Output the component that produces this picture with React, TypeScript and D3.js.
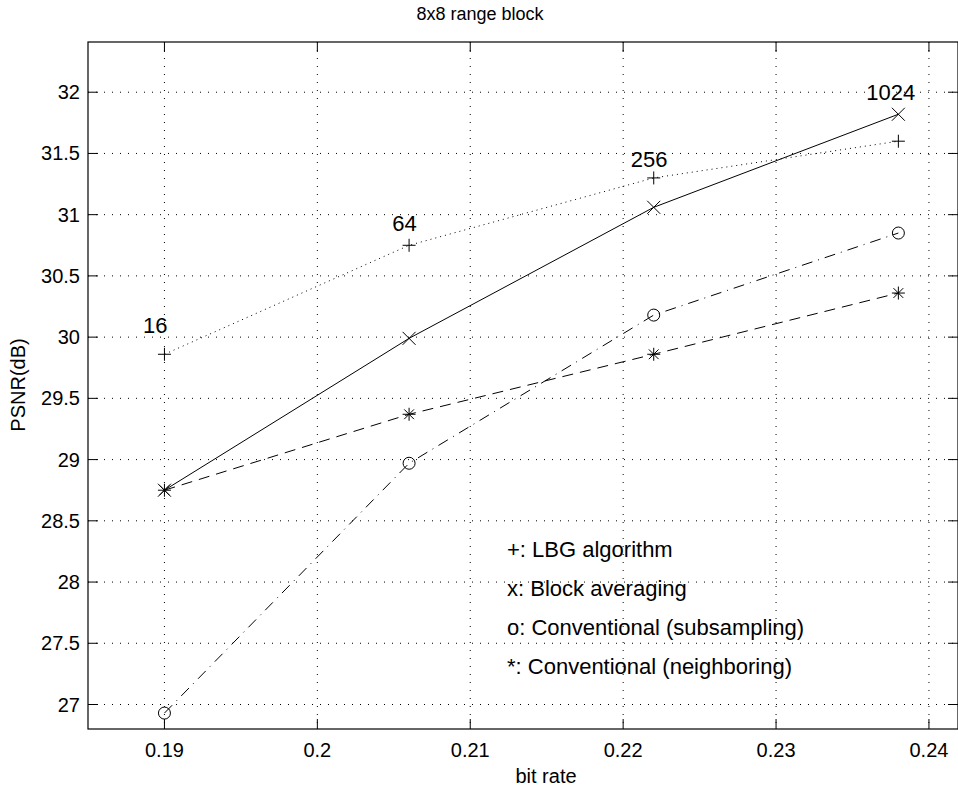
import React from "react";
import * as d3 from "d3";

const bitRates = [0.19, 0.206, 0.222, 0.238];
const lbg = [29.86, 30.75, 31.3, 31.6];
const blockAvg = [28.75, 29.99, 31.06, 31.82];
const subsampling = [26.93, 28.97, 30.18, 30.85];
const neighboring = [28.75, 29.37, 29.86, 30.36];

const codebookLabels = ["16", "64", "256", "1024"];
const codebookLabelX = [0.1894, 0.2057, 0.2217, 0.2375];
const codebookLabelY = [30.03, 30.87, 31.39, 31.94];

const xTicks = [0.19, 0.2, 0.21, 0.22, 0.23, 0.24];
const yTicks = [27, 27.5, 28, 28.5, 29, 29.5, 30, 30.5, 31, 31.5, 32];

const legendItems = [
  "+: LBG algorithm",
  "x: Block averaging",
  "o: Conventional (subsampling)",
  "*: Conventional (neighboring)",
];

const W = 958;
const H = 792;
const left = 88;
const right = 958;
const top = 42;
const bottom = 729;
const font = "'Liberation Sans', Arial, Helvetica, sans-serif";

type Marker = "plus" | "x" | "o" | "star";

function markerPath(kind: Marker, cx: number, cy: number): string {
  const s = 6.5;
  const p = d3.path();
  if (kind === "plus" || kind === "star") {
    p.moveTo(cx - s, cy);
    p.lineTo(cx + s, cy);
    p.moveTo(cx, cy - s);
    p.lineTo(cx, cy + s);
  }
  if (kind === "x" || kind === "star") {
    const d = kind === "star" ? s * 0.75 : s;
    p.moveTo(cx - d, cy - d);
    p.lineTo(cx + d, cy + d);
    p.moveTo(cx - d, cy + d);
    p.lineTo(cx + d, cy - d);
  }
  if (kind === "o") {
    p.moveTo(cx + 6, cy);
    p.arc(cx, cy, 6, 0, Math.PI * 2);
  }
  return p.toString();
}

export default function App() {
  const x = d3.scaleLinear().domain([0.185, 0.2419]).range([left, right]);
  const y = d3.scaleLinear().domain([26.8, 32.41]).range([bottom, top]);

  const line = d3
    .line<number>()
    .x((_, i) => x(bitRates[i]))
    .y((d) => y(d));

  const series: { values: number[]; dash: string; marker: Marker }[] = [
    { values: lbg, dash: "1,4", marker: "plus" },
    { values: blockAvg, dash: "none", marker: "x" },
    { values: subsampling, dash: "11,6,1,6", marker: "o" },
    { values: neighboring, dash: "11,7", marker: "star" },
  ];

  const tickLen = 10;

  return (
    <svg
      width={W}
      height={H}
      style={{ position: "absolute", left: 0, top: 0, background: "#fff" }}
      fontFamily={font}
    >
      <rect x={0} y={0} width={W} height={H} fill="#fff" />
      {xTicks.map((t) => (
        <line
          key={"gx" + t}
          x1={x(t)}
          x2={x(t)}
          y1={top}
          y2={bottom}
          stroke="#000"
          strokeWidth={1}
          strokeDasharray="1,7"
        />
      ))}
      {yTicks.map((t) => (
        <line
          key={"gy" + t}
          x1={left}
          x2={right}
          y1={y(t)}
          y2={y(t)}
          stroke="#000"
          strokeWidth={1}
          strokeDasharray="1,7"
        />
      ))}
      {series.map((s, i) => (
        <g key={"s" + i}>
          <path
            d={line(s.values) || ""}
            fill="none"
            stroke="#000"
            strokeWidth={1}
            strokeDasharray={s.dash}
          />
          {s.values.map((v, j) => (
            <path
              key={j}
              d={markerPath(s.marker, x(bitRates[j]), y(v))}
              fill="none"
              stroke="#000"
              strokeWidth={1}
            />
          ))}
        </g>
      ))}
      {codebookLabels.map((l, i) => (
        <text
          key={"cl" + i}
          x={x(codebookLabelX[i])}
          y={y(codebookLabelY[i])}
          textAnchor="middle"
          fontSize={22}
        >
          {l}
        </text>
      ))}
      {legendItems.map((l, i) => (
        <text key={"lg" + i} x={507} y={557 + i * 39} fontSize={22}>
          {l}
        </text>
      ))}
      <rect
        x={left}
        y={top}
        width={right - left}
        height={bottom - top}
        fill="none"
        stroke="#000"
        strokeWidth={1.2}
      />
      {xTicks.map((t) => (
        <g key={"tx" + t}>
          <line x1={x(t)} x2={x(t)} y1={bottom} y2={bottom - tickLen} stroke="#000" />
          <line x1={x(t)} x2={x(t)} y1={top} y2={top + tickLen} stroke="#000" />
          <text x={x(t)} y={757} textAnchor="middle" fontSize={20}>
            {d3.format("")(t)}
          </text>
        </g>
      ))}
      {yTicks.map((t) => (
        <g key={"ty" + t}>
          <line x1={left} x2={left + tickLen} y1={y(t)} y2={y(t)} stroke="#000" />
          <line x1={right} x2={right - tickLen} y1={y(t)} y2={y(t)} stroke="#000" />
          <text x={80} y={y(t) + 7} textAnchor="end" fontSize={20}>
            {d3.format("")(t)}
          </text>
        </g>
      ))}
      <text x={480} y={20} textAnchor="middle" fontSize={18}>
        8x8 range block
      </text>
      <text x={546} y={783} textAnchor="middle" fontSize={20}>
        bit rate
      </text>
      <text
        transform={`translate(25, 385) rotate(-90)`}
        textAnchor="middle"
        fontSize={20}
      >
        PSNR(dB)
      </text>
    </svg>
  );
}
